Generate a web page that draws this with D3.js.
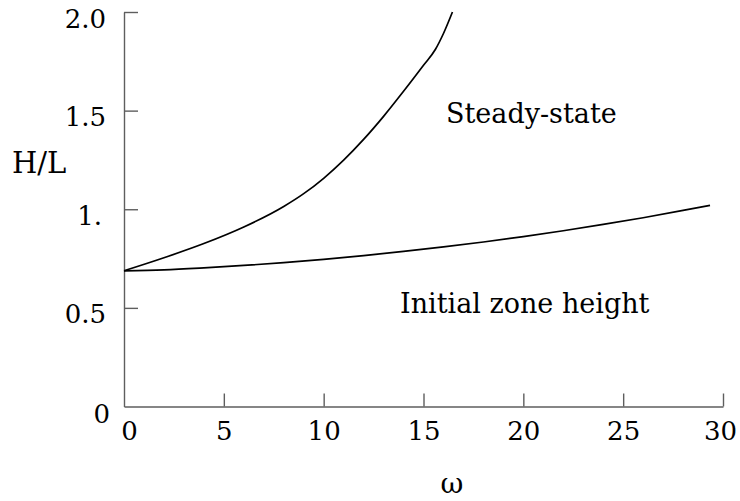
<!DOCTYPE html>
<html>
<head>
<meta charset="utf-8">
<script src="https://cdn.jsdelivr.net/npm/d3@7"></script>
<style>
  html, body { margin: 0; padding: 0; background: #fff; }
  svg { display: block; }
  text { font-family: "DejaVu Serif", "Liberation Serif", serif; fill: #000; }
</style>
</head>
<body>
<svg id="chart" width="740" height="501"></svg>
<script>
// ---- data ----
const xTicks = [0, 5, 10, 15, 20, 25, 30];
const xTickLabels = ["0", "5", "10", "15", "20", "25", "30"];
const yTicks = [0, 0.5, 1, 1.5, 2];
const yTickLabels = ["0", "0.5", "1.", "1.5", "2.0"];

// Upper curve: steady-state boundary
const steadyX = [0, 2, 4, 6, 8, 9, 10, 11, 12, 13, 14, 15, 15.6, 16, 16.45];
const steadyY = [0.688, 0.754, 0.826, 0.910, 1.014, 1.079, 1.157, 1.249, 1.354, 1.471, 1.598, 1.730, 1.811, 1.891, 2.0];

// Lower curve: initial zone height
const initX = [0, 2, 4, 6, 8, 10, 12, 14, 16, 18, 20, 22, 24, 26, 28, 29.35];
const initY = [0.688, 0.693, 0.703, 0.715, 0.729, 0.746, 0.765, 0.786, 0.809, 0.834, 0.861, 0.891, 0.923, 0.957, 0.994, 1.02];

const xLabel = "ω";
const yLabel = "H/L";
const regionLabels = ["Steady-state", "Initial zone height"];

// ---- drawing ----
const svg = d3.select("#chart");
const x = d3.scaleLinear().domain([0, 30]).range([124, 723]);
const y = d3.scaleLinear().domain([0, 2]).range([406.5, 12]);

const axisColor = "#5e5e5e";

// x axis
const gx = svg.append("g")
  .attr("transform", `translate(0,${y(0)})`)
  .call(d3.axisBottom(x).tickValues(xTicks)
    .tickFormat((d, i) => xTickLabels[i])
    .tickSizeInner(-13).tickSizeOuter(0).tickPadding(0));
gx.select(".domain").attr("stroke", axisColor).attr("stroke-width", 1.4);
gx.selectAll(".tick line").attr("stroke", axisColor).attr("stroke-width", 1.4);
gx.selectAll(".tick text")
  .attr("y", 33.5).attr("dy", 0)
  .attr("font-size", 26)
  .attr("font-family", "DejaVu Serif")
  .attr("fill", "#000")
  .attr("dx", (d, i) => i === 0 ? 5 : (i === xTicks.length - 1 ? -3 : 0));
gx.selectAll(".tick").filter(d => d === 0).select("line").remove();

// y axis
const gy = svg.append("g")
  .attr("transform", `translate(${x(0)},0)`)
  .call(d3.axisLeft(y).tickValues(yTicks)
    .tickFormat((d, i) => yTickLabels[i])
    .tickSizeInner(-14).tickSizeOuter(0).tickPadding(18));
gy.select(".domain").attr("stroke", axisColor).attr("stroke-width", 1.4);
gy.selectAll(".tick line").attr("stroke", axisColor).attr("stroke-width", 1.4);
gy.selectAll(".tick text")
  .attr("dy", 15)
  .attr("font-size", 26)
  .attr("font-family", "DejaVu Serif")
  .attr("fill", "#000");
gy.selectAll(".tick").filter(d => d === 0).select("line").remove();
gy.selectAll(".tick").filter(d => d === 0).select("text").attr("dx", 4).attr("dy", 16);
gy.selectAll(".tick").filter(d => d === 1).select("text").attr("dx", -4);

// curves
const line = d3.line().curve(d3.curveMonotoneX);
function drawCurve(xs, ys) {
  const pts = xs.map((v, i) => [x(v), y(ys[i])]);
  svg.append("path")
    .attr("d", line(pts))
    .attr("fill", "none")
    .attr("stroke", "#000")
    .attr("stroke-width", 1.7);
}
drawCurve(steadyX, steadyY);
drawCurve(initX, initY);

// labels
svg.append("text").attr("x", 12).attr("y", 173)
  .attr("font-size", 29).text(yLabel);
svg.append("text").attr("x", 452).attr("y", 493)
  .attr("text-anchor", "middle").attr("font-size", 28).text(xLabel);
svg.append("text").attr("x", 446).attr("y", 123)
  .attr("font-size", 27).text(regionLabels[0]);
svg.append("text").attr("x", 400).attr("y", 313)
  .attr("font-size", 27).text(regionLabels[1]);
</script>
</body>
</html>
